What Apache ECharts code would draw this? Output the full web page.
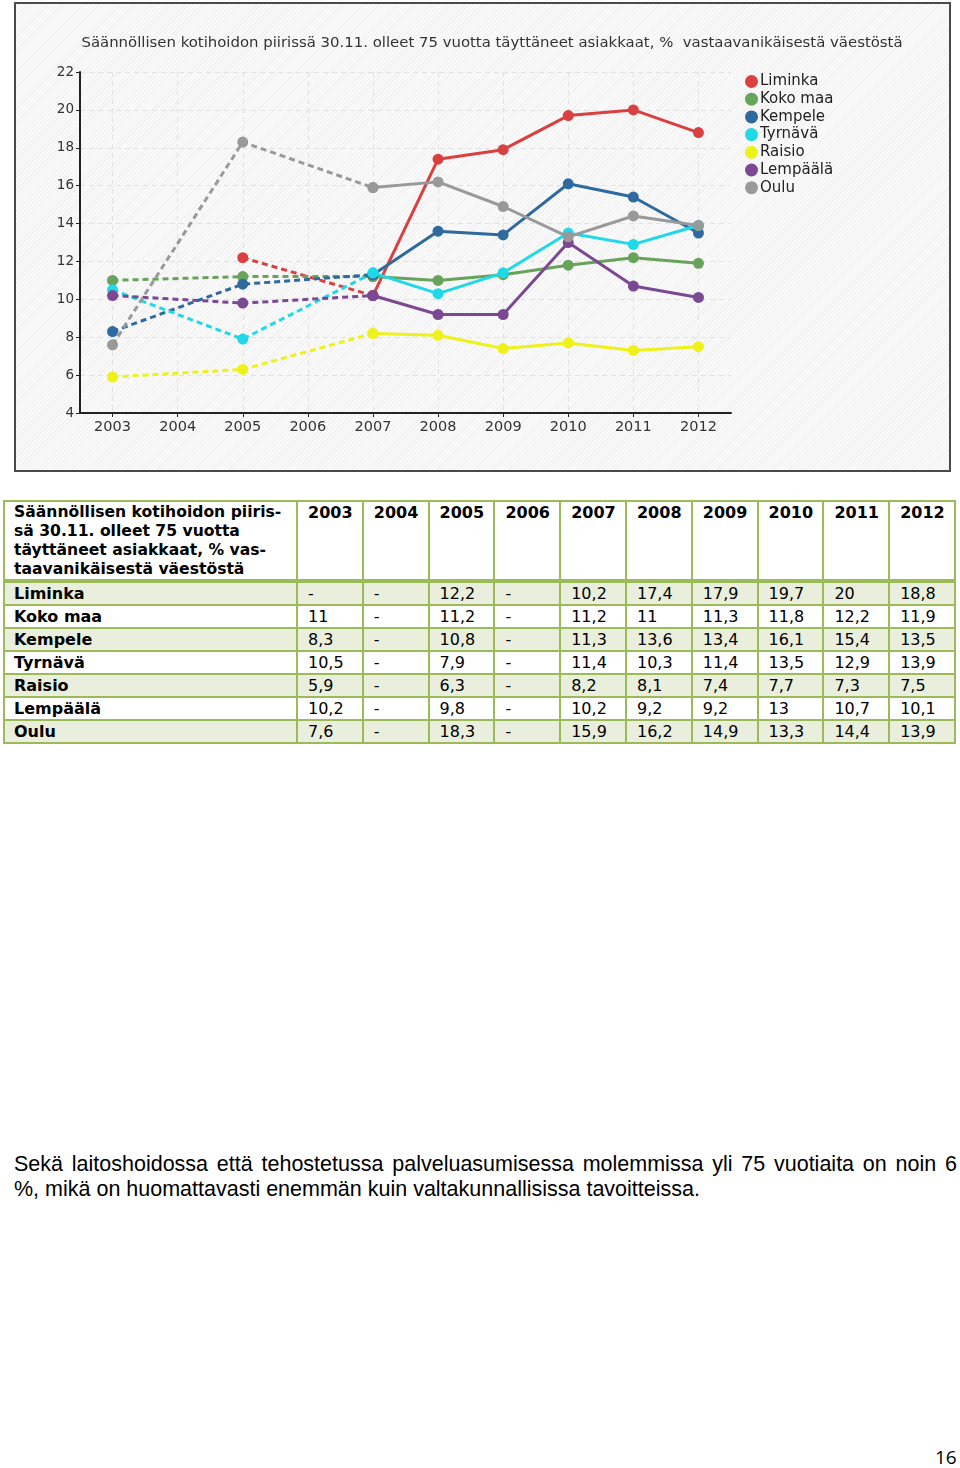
<!DOCTYPE html>
<html>
<head>
<meta charset="utf-8">
<script src="https://cdn.jsdelivr.net/npm/echarts@6/dist/echarts.min.js"></script>
<style>
  html, body { margin: 0; padding: 0; background: #fff; }
  body { width: 960px; height: 1468px; position: relative; overflow: hidden; }
  #frame { position: absolute; left: 14px; top: 2px; width: 933px; height: 466px; border: 2px solid #4a4a4a;
    background: repeating-linear-gradient(-45deg, #fafafa 0px, #fafafa 2px, #f0f0f0 2px, #f0f0f0 3px); }
  #chart { position: absolute; left: 0; top: 0; width: 960px; height: 480px; }
  #tbl { position: absolute; left: 3px; top: 500px; width: 951px; table-layout: fixed; border-collapse: collapse; font-family: "DejaVu Sans", Verdana, sans-serif; font-size: 16px; color: #000; }
  #tbl td, #tbl th { border: 2px solid #9bbb59; padding: 0 0 0 10px; height: 21px; line-height: 21px; text-align: left; vertical-align: top; white-space: nowrap; overflow: hidden; }
  #tbl th { font-weight: bold; height: 74px; line-height: 19px; padding-top: 1px; }
  #tbl th.first { font-size: 15.6px; padding-left: 9px; }
  #tbl thead tr { border-bottom: 4px solid #9bbb59; }
  #tbl td.name { font-weight: bold; padding-left: 9px; }
  #tbl tr.g td { background: #e9efdc; }
  #para { position: absolute; left: 14px; top: 1152px; width: 943px; font-family: "Liberation Sans", Arial, sans-serif; font-size: 21.5px; line-height: 25px; color: #000; }
  #para .l1 { text-align: justify; text-align-last: justify; white-space: nowrap; }
  #pg { position: absolute; left: 935px; top: 1444px; font-family: "Open Sans", "Liberation Sans", sans-serif; font-size: 19px; color: #000; }
</style>
</head>
<body>
<div id="frame"></div>
<div id="chart"></div>
<table id="tbl"></table>
<div id="para"><div class="l1" id="p1"></div><div id="p2"></div></div>
<div id="pg">16</div>
<script>
const chartTitle = "Säännöllisen kotihoidon piirissä 30.11. olleet 75 vuotta täyttäneet asiakkaat, %  vastaavanikäisestä väestöstä";
const tableHeader = ["Säännöllisen kotihoidon piiris-", "sä 30.11. olleet 75 vuotta", "täyttäneet asiakkaat, % vas-", "taavanikäisestä väestöstä"];
const years = ["2003", "2004", "2005", "2006", "2007", "2008", "2009", "2010", "2011", "2012"];
const yTicks = { min: 4, max: 22, interval: 2 };
const names = ["Liminka", "Koko maa", "Kempele", "Tyrnävä", "Raisio", "Lempäälä", "Oulu"];
const colors = ["#d9403f", "#67a35a", "#2e6a9e", "#1fd8e8", "#eef21a", "#7b4892", "#999999"];
const liminka  = [null, null, 12.2, null, 10.2, 17.4, 17.9, 19.7, 20, 18.8];
const kokoMaa  = [11, null, 11.2, null, 11.2, 11, 11.3, 11.8, 12.2, 11.9];
const kempele  = [8.3, null, 10.8, null, 11.3, 13.6, 13.4, 16.1, 15.4, 13.5];
const tyrnava  = [10.5, null, 7.9, null, 11.4, 10.3, 11.4, 13.5, 12.9, 13.9];
const raisio   = [5.9, null, 6.3, null, 8.2, 8.1, 7.4, 7.7, 7.3, 7.5];
const lempaala = [10.2, null, 9.8, null, 10.2, 9.2, 9.2, 13, 10.7, 10.1];
const oulu     = [7.6, null, 18.3, null, 15.9, 16.2, 14.9, 13.3, 14.4, 13.9];
const paraLine1 = "Sekä laitoshoidossa että tehostetussa palveluasumisessa molemmissa yli 75 vuotiaita on noin 6";
const paraLine2 = "%, mikä on huomattavasti enemmän kuin valtakunnallisissa tavoitteissa.";

const allData = [liminka, kokoMaa, kempele, tyrnava, raisio, lempaala, oulu];
const splitIdx = 4; // 2007: data before this year is sparse (dashed)

const series = [];
allData.forEach((d, i) => {
  const dashed = d.map((v, k) => (k <= splitIdx ? v : null));
  const solid = d.map((v, k) => (k >= splitIdx ? v : null));
  const common = {
    type: 'line', name: names[i], symbol: 'circle', symbolSize: 11, connectNulls: true,
    itemStyle: { color: colors[i] }, z: 2 + i, animation: false,
    emphasis: { disabled: true }
  };
  series.push(Object.assign({}, common, { data: dashed, lineStyle: { color: colors[i], width: 3, type: [6, 4] } }));
  series.push(Object.assign({}, common, { data: solid, lineStyle: { color: colors[i], width: 3 } }));
});

const chart = echarts.init(document.getElementById('chart'), null, { renderer: 'canvas' });
chart.setOption({
  animation: false,
  title: {
    text: chartTitle, left: 487, textAlign: 'center', top: 31,
    textStyle: { fontFamily: 'DejaVu Sans', fontSize: 14.9, fontWeight: 'normal', color: '#333' }
  },
  legend: {
    orient: 'vertical', left: 740, top: 69, icon: 'circle', itemWidth: 13, itemHeight: 13, itemGap: 2.7,
    data: names,
    textStyle: { fontFamily: 'DejaVu Sans', fontSize: 15, color: '#222', lineHeight: 13, padding: [0, 0, 0, -3] }
  },
  grid: { left: 80, top: 72, width: 651, height: 341, containLabel: false },
  xAxis: {
    type: 'category', data: years, boundaryGap: true,
    axisLine: { lineStyle: { color: '#222', width: 2 } },
    axisTick: { show: true, alignWithLabel: true, length: 4, lineStyle: { color: '#222' } },
    axisLabel: { fontFamily: 'DejaVu Sans', fontSize: 14.5, color: '#333', margin: 7 },
    splitLine: { show: true, alignWithLabel: true, lineStyle: { color: '#e2e2e2', type: [5, 4] } }
  },
  yAxis: {
    type: 'value', min: yTicks.min, max: yTicks.max, interval: yTicks.interval,
    axisLine: { show: true, lineStyle: { color: '#222', width: 2 } },
    axisTick: { show: true, length: 4, lineStyle: { color: '#222' } },
    axisLabel: { fontFamily: 'DejaVu Sans', fontSize: 13.5, color: '#333', margin: 6 },
    splitLine: { show: true, lineStyle: { color: '#e2e2e2', type: [5, 4] } }
  },
  series: series
});

// Table built from the same arrays
const fmt = v => (v === null ? '-' : String(v).replace('.', ','));
const tbl = document.getElementById('tbl');
let html = '<colgroup><col style="width:293px">';
years.forEach(() => { html += '<col style="width:65.8px">'; });
html += '</colgroup><thead><tr><th class="first">' + tableHeader.join('<br>') + '</th>';
years.forEach(y => { html += '<th>' + y + '</th>'; });
html += '</tr></thead><tbody>';
names.forEach((n, i) => {
  html += '<tr class="' + (i % 2 === 0 ? 'g' : 'w') + '"><td class="name">' + n + '</td>';
  allData[i].forEach(v => { html += '<td>' + fmt(v) + '</td>'; });
  html += '</tr>';
});
html += '</tbody>';
tbl.innerHTML = html;

document.getElementById('p1').textContent = paraLine1;
document.getElementById('p2').textContent = paraLine2;
</script>
</body>
</html>
